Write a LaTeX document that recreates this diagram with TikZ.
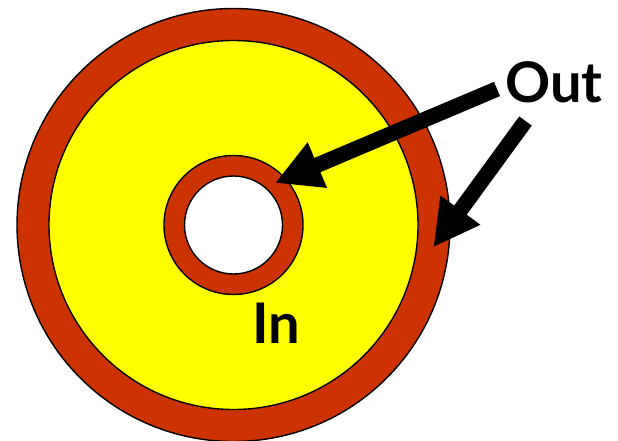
\documentclass[tikz,border=0pt]{standalone}
\usepackage{fontspec}
\setmainfont{Lato}
\usetikzlibrary{arrows.meta}
\definecolor{ringred}{HTML}{CC3300}
\definecolor{fillyellow}{HTML}{FFFF00}
\begin{document}
\begin{tikzpicture}[x=1pt,y=-1pt,
  ring/.style={draw=black, line width=1.4pt},
  bigarrow/.style={line width=15.5pt, -{Triangle[length=46pt,width=46pt]}},
  lbl/.style={font=\fontsize{56}{60}\selectfont\bfseries, inner sep=0pt}]
\useasboundingbox (0,0) rectangle (618,441);
\coordinate (c) at (233.5,225);
\filldraw[ring, fill=ringred] (c) circle (216.5);
\filldraw[ring, fill=fillyellow] (c) circle (184.5);
\filldraw[ring, fill=ringred] (c) circle (69.5);
\filldraw[ring, fill=white] (c) circle (49);
\node[lbl] (out) at (554,82) {Out};
\node[lbl] (in) at (276,323) {In};
\coordinate (t1) at (497,89);
\coordinate (h1) at (275,183);
\coordinate (t2) at (525.5,121);
\coordinate (h2) at (433.3,247.3);
\draw[bigarrow] (t1) -- (h1);
\draw[bigarrow] (t2) -- (h2);
\end{tikzpicture}
\end{document}
